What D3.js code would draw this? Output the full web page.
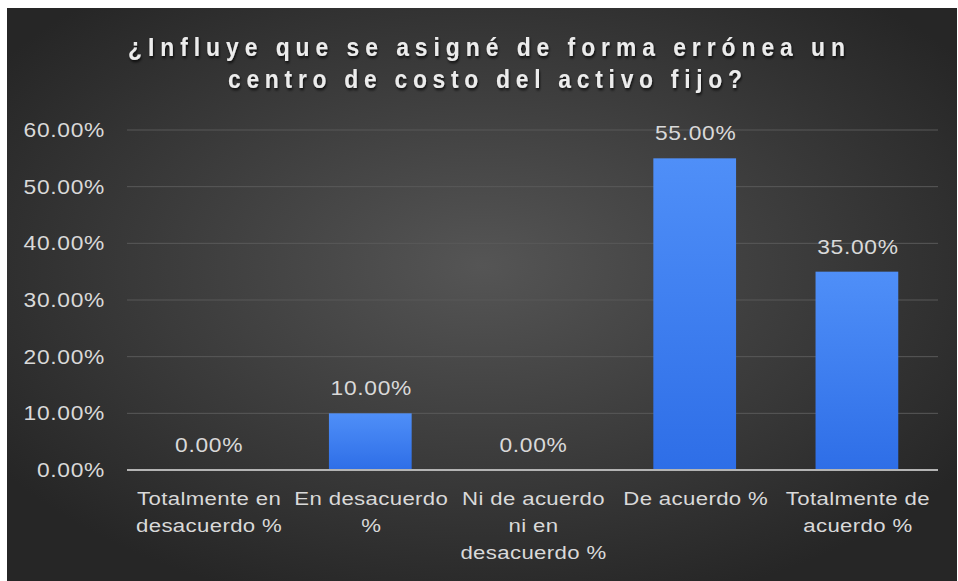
<!DOCTYPE html>
<html>
<head>
<meta charset="utf-8">
<script src="https://cdn.jsdelivr.net/npm/d3@7"></script>
<style>
  html, body { margin: 0; padding: 0; background: #ffffff; }
  svg { display: block; }
</style>
</head>
<body>
<svg id="chart" width="958" height="581"></svg>
<script>
// Survey answers and their shares
const categories = [
  ["Totalmente en", "desacuerdo %"],
  ["En desacuerdo", "%"],
  ["Ni de acuerdo", "ni en", "desacuerdo %"],
  ["De acuerdo %"],
  ["Totalmente de", "acuerdo %"]
];
const values = [0.00, 0.10, 0.00, 0.55, 0.35];
const yTicks = [0, 0.1, 0.2, 0.3, 0.4, 0.5, 0.6];
const titleLines = ["¿Influye que se asigné de forma errónea un", "centro de costo del activo fijo?"];
const titleWidths = [717, 514];

const panel = { x: 7, y: 8, w: 950, h: 573 };
const plot = { left: 127, right: 938, top: 130, bottom: 470 };
const bodyFont = "'Liberation Sans', Arial, sans-serif";
const wide = 1.14;        // horizontal stretch of the body text
const titleSqueeze = 0.88; // narrower glyphs for the title

const svg = d3.select("#chart");
const defs = svg.append("defs");

const bg = defs.append("radialGradient").attr("id", "bg")
  .attr("cx", "50%").attr("cy", "45%").attr("r", "62%");
bg.append("stop").attr("offset", "0%").attr("stop-color", "#555555");
bg.append("stop").attr("offset", "100%").attr("stop-color", "#262626");

const barGrad = defs.append("linearGradient").attr("id", "bar")
  .attr("x1", 0).attr("y1", 0).attr("x2", 0).attr("y2", 1);
barGrad.append("stop").attr("offset", "0%").attr("stop-color", "#4f8ff8");
barGrad.append("stop").attr("offset", "100%").attr("stop-color", "#2e6ee7");

const shadow = defs.append("filter").attr("id", "shadow")
  .attr("x", "-10%").attr("y", "-30%").attr("width", "120%").attr("height", "160%");
shadow.append("feDropShadow").attr("dx", 1).attr("dy", 2).attr("stdDeviation", 1.5)
  .attr("flood-color", "#000").attr("flood-opacity", 0.8);

svg.append("rect")
  .attr("x", panel.x).attr("y", panel.y)
  .attr("width", panel.w).attr("height", panel.h)
  .attr("fill", "url(#bg)");

const x = d3.scaleBand()
  .domain(d3.range(categories.length))
  .range([plot.left, plot.right])
  .paddingInner(0.49).paddingOuter(0.245);

const y = d3.scaleLinear().domain([0, 0.6]).range([plot.bottom, plot.top]);

// Gridlines
svg.append("g")
  .selectAll("line")
  .data(yTicks.filter(t => t > 0))
  .join("line")
  .attr("x1", plot.left).attr("x2", plot.right)
  .attr("y1", d => y(d)).attr("y2", d => y(d))
  .attr("stroke", "#595959").attr("stroke-width", 1);

// Y axis labels
const yAxis = d3.axisLeft(y).tickValues(yTicks)
  .tickFormat(d => (d * 100).toFixed(2) + "%")
  .tickSize(0).tickPadding(0);
const gy = svg.append("g").attr("transform", `translate(${plot.left - 22},0)`).call(yAxis);
gy.select(".domain").remove();
gy.selectAll("text")
  .attr("x", 0)
  .attr("transform", `scale(${wide},1)`)
  .attr("fill", "#d9d9d9")
  .style("font-family", bodyFont)
  .style("font-size", "20px")
  .style("letter-spacing", "0.6px");

// Bars
svg.append("g")
  .selectAll("rect")
  .data(values)
  .join("rect")
  .attr("x", (d, i) => x(i))
  .attr("y", d => y(d))
  .attr("width", x.bandwidth())
  .attr("height", d => y(0) - y(d))
  .attr("fill", "url(#bar)");

// Baseline
svg.append("line")
  .attr("x1", plot.left).attr("x2", plot.right)
  .attr("y1", y(0)).attr("y2", y(0))
  .attr("stroke", "#b4b4b4").attr("stroke-width", 2);

// Value labels
svg.append("g")
  .selectAll("text")
  .data(values)
  .join("text")
  .attr("transform", (d, i) => `translate(${x(i) + x.bandwidth() / 2 + 1},${y(d) - 18}) scale(${wide},1)`)
  .attr("text-anchor", "middle")
  .attr("fill", "#d9d9d9")
  .style("font-family", bodyFont)
  .style("font-size", "20px")
  .style("letter-spacing", "0.6px")
  .text(d => (d * 100).toFixed(2) + "%");

// Category labels
const cat = svg.append("g")
  .selectAll("text")
  .data(categories)
  .join("text")
  .attr("transform", (d, i) => `translate(${x(i) + x.bandwidth() / 2 + 1},505) scale(1.2,1)`)
  .attr("text-anchor", "middle")
  .attr("fill", "#d9d9d9")
  .style("font-family", bodyFont)
  .style("font-size", "18.5px")
  .style("letter-spacing", "0.3px");
cat.selectAll("tspan")
  .data(d => d)
  .join("tspan")
  .attr("x", 0)
  .attr("dy", (d, i) => i === 0 ? 0 : 27)
  .text(d => d);

// Title
svg.append("g")
  .selectAll("text")
  .data(titleLines)
  .join("text")
  .attr("transform", (d, i) => `translate(${i === 0 ? 486.5 : 485},${56 + i * 32}) scale(${titleSqueeze},1)`)
  .attr("text-anchor", "middle")
  .attr("textLength", (d, i) => titleWidths[i] / titleSqueeze)
  .attr("lengthAdjust", "spacing")
  .attr("fill", "#ececec")
  .attr("filter", "url(#shadow)")
  .style("font-family", bodyFont)
  .style("font-weight", "bold")
  .style("font-size", "26px")
  .text(d => d);
</script>
</body>
</html>
